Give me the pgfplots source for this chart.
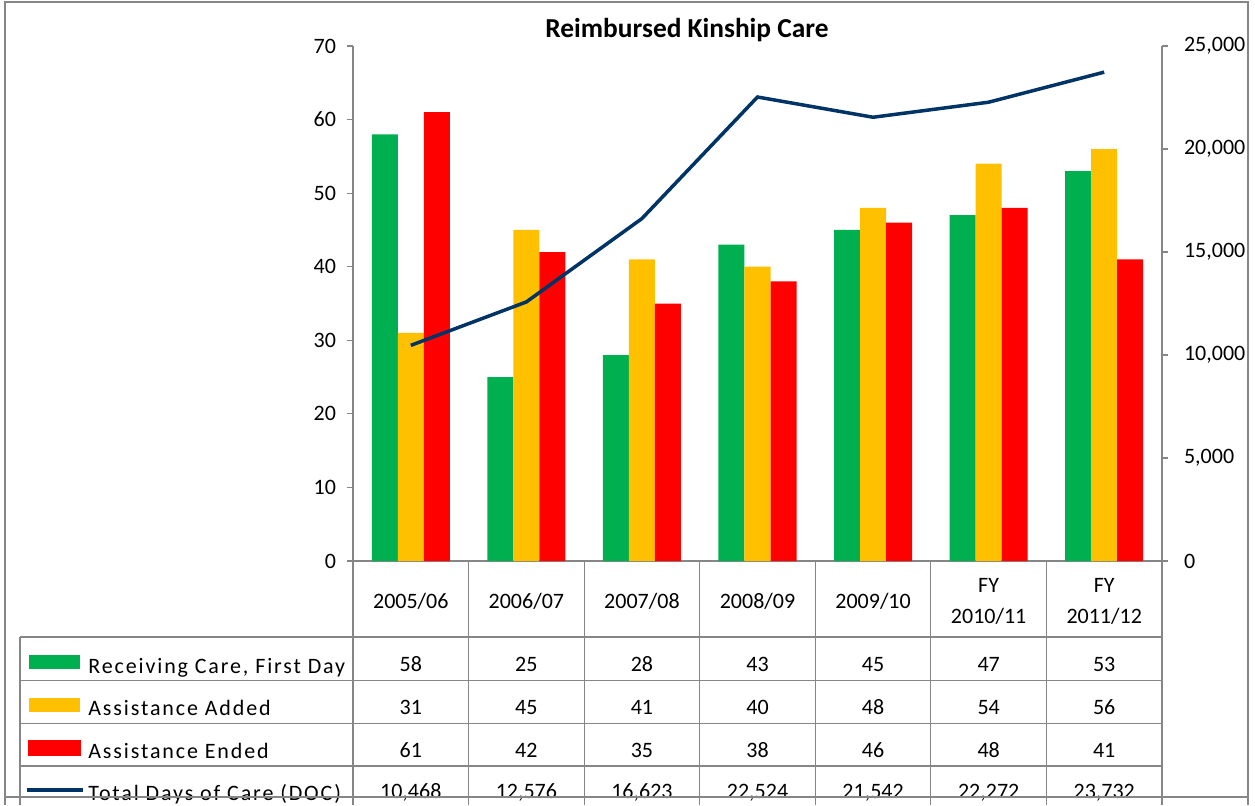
\documentclass[border=0pt]{standalone}
\usepackage{pgfplots}
\pgfplotsset{compat=1.18}
\usepackage{fontspec}
\setmainfont{Carlito}
\newfontfamily\spaced[LetterSpace=8.5]{Carlito}
\definecolor{cgreen}{RGB}{0,176,80}
\definecolor{corange}{RGB}{255,192,0}
\definecolor{cred}{RGB}{255,0,0}
\definecolor{cblue}{RGB}{0,51,102}
\definecolor{cgray}{RGB}{134,134,134}
\newcommand{\tf}{\fontsize{11}{13}\selectfont}
\begin{document}
\begin{tikzpicture}
\begin{scope}[x=0.5pt,y=-0.5pt]
\path[use as bounding box] (0,0) rectangle (1255,805);
\draw[cgray, line width=0.6pt] (5,805) -- (5,2) -- (1248,2) -- (1248,805);
\end{scope}
\pgfplotsset{
  base/.style={at={(176.5pt,-280.5pt)}, anchor=south west, scale only axis,
    width=404.5pt, height=257.5pt, xmin=-0.5, xmax=6.5,
    /pgf/number format/assume math mode=true,
    tick align=outside, major tick length=3pt,
    every tick/.style={cgray, line width=0.6pt},
    axis line style={cgray, line width=0.6pt},
    tick label style={font=\tf, black},
  }
}
\begin{axis}[base, ymin=0, ymax=70, ytick={0,10,...,70},
  axis y line*=left, axis x line*=bottom, xtick=\empty,
  ybar=0pt, bar width=0.225,
  yticklabel style={xshift=-2pt}]
\addplot[fill=cgreen, draw=none] coordinates {(0,58) (1,25) (2,28) (3,43) (4,45) (5,47) (6,53)};
\addplot[fill=corange, draw=none] coordinates {(0,31) (1,45) (2,41) (3,40) (4,48) (5,54) (6,56)};
\addplot[fill=cred, draw=none] coordinates {(0,61) (1,42) (2,35) (3,38) (4,46) (5,48) (6,41)};
\end{axis}
\begin{axis}[base, ymin=0, ymax=25000, ytick={0,5000,...,25000},
  axis y line*=right, axis x line=none,
  scaled y ticks=false,
  yticklabel style={/pgf/number format/fixed, /pgf/number format/1000 sep={,}, xshift=4.5pt}]
\addplot[cblue, line width=1.75pt, mark=none] coordinates {(0,10468) (1,12576) (2,16623) (3,22524) (4,21542) (5,22272) (6,23732)};
\end{axis}
\begin{scope}[x=0.5pt,y=-0.5pt]
\node[font=\fontsize{13.7}{16}\selectfont\bfseries, anchor=base] at (687,37) {Reimbursed Kinship Care};
% table grid
\begin{scope}[cgray, line width=0.6pt]
\foreach \k in {0,...,7} { \draw (353+115.571*\k,561) -- (353+115.571*\k,805); }
\draw (20,637) -- (20,805);
\foreach \yy in {637,680.5,723.5,766} { \draw (20,\yy) -- (1162,\yy); }
\end{scope}
% header
\foreach \lab [count=\i from 0] in {2005/06,2006/07,2007/08,2008/09,2009/10} {
  \node[font=\tf, anchor=base, inner sep=0pt] at (353+115.571*\i+57.8,608) {\lab};
}
\node[font=\tf, anchor=base, inner sep=0pt] at (353+115.571*5+57.8,592) {FY};
\node[font=\tf, anchor=base, inner sep=0pt] at (353+115.571*5+57.8,623) {2010/11};
\node[font=\tf, anchor=base, inner sep=0pt] at (353+115.571*6+57.8,592) {FY};
\node[font=\tf, anchor=base, inner sep=0pt] at (353+115.571*6+57.8,623) {2011/12};
% rows
\foreach \v [count=\i from 0] in {58,25,28,43,45,47,53} {
  \node[font=\tf, anchor=base, inner sep=0pt] at (353+115.571*\i+57.8,671) {\v};}
\foreach \v [count=\i from 0] in {31,45,41,40,48,54,56} {
  \node[font=\tf, anchor=base, inner sep=0pt] at (353+115.571*\i+57.8,714) {\v};}
\foreach \v [count=\i from 0] in {61,42,35,38,46,48,41} {
  \node[font=\tf, anchor=base, inner sep=0pt] at (353+115.571*\i+57.8,757) {\v};}
\foreach \v [count=\i from 0] in {10{,}468,12{,}576,16{,}623,22{,}524,21{,}542,22{,}272,23{,}732} {
  \node[font=\tf, anchor=base, inner sep=0pt] at (353+115.571*\i+57.8,798) {\v};}
% legend keys
\fill[cgreen] (29,655) rectangle (80,669);
\fill[corange] (29,698) rectangle (80,712);
\fill[cred] (28,740) rectangle (81,756);
\draw[cblue, line width=1.75pt] (27,790) -- (83,790);
\node[font=\tf\spaced, anchor=base west, inner sep=0pt] at (88,673) {Receiving Care, First Day};
\node[font=\tf\spaced, anchor=base west, inner sep=0pt] at (88,715) {Assistance Added};
\node[font=\tf\spaced, anchor=base west, inner sep=0pt] at (88,758) {Assistance Ended};
\node[font=\tf\spaced, anchor=base west, inner sep=0pt] at (88,800) {Total Days of Care (DOC)};
% bottom border crossing last row
\draw[cgray, line width=0.6pt] (5,797) -- (1248,797);
\end{scope}
\end{tikzpicture}
\end{document}
